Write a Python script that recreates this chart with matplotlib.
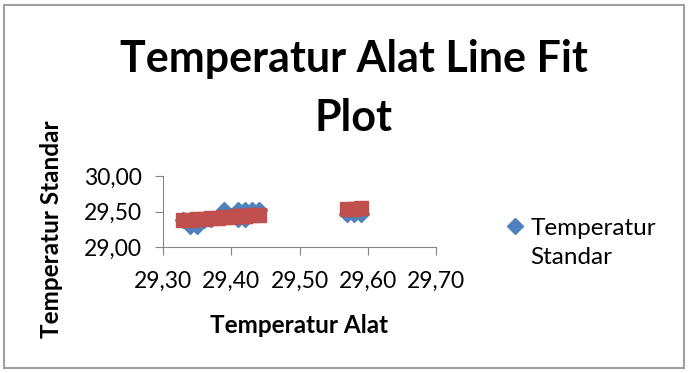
import matplotlib.pyplot as plt
from matplotlib.patches import Rectangle

# Data
temperatur_alat = [29.33, 29.34, 29.35, 29.36, 29.37, 29.38, 29.39, 29.40, 29.41,
                   29.41, 29.42, 29.42, 29.43, 29.44, 29.57, 29.58, 29.59]
temperatur_standar = [29.38, 29.30, 29.30, 29.38, 29.40, 29.42, 29.52, 29.44, 29.52,
                      29.40, 29.52, 29.40, 29.52, 29.52, 29.46, 29.46, 29.46]
predicted_standar = [29.380, 29.386, 29.393, 29.399, 29.406, 29.412, 29.418, 29.425, 29.431,
                     29.431, 29.438, 29.438, 29.444, 29.450, 29.534, 29.540, 29.546]
x_ticks = [29.30, 29.40, 29.50, 29.60, 29.70]
y_ticks = [29.00, 29.50, 30.00]

plt.rcParams['font.family'] = ['Lato', 'DejaVu Sans']

W, H = 689, 373
fig = plt.figure(figsize=(W / 100, H / 100), dpi=100)
ax = fig.add_axes([163 / W, 1 - 247 / H, 273 / W, 71 / H])

ax.plot(temperatur_alat, temperatur_standar, linestyle='none', marker='D',
        markersize=8, color='#4F81BD', label='Temperatur')
ax.plot(temperatur_alat, predicted_standar, linestyle='none', marker='s',
        markersize=10.5, color='#C0504D')

ax.set_xlim(29.30, 29.70)
ax.set_ylim(29.00, 30.00)
ax.set_xticks(x_ticks)
ax.set_yticks(y_ticks)
ax.set_xticklabels([f'{v:.2f}'.replace('.', ',') for v in x_ticks])
ax.set_yticklabels([f'{v:.2f}'.replace('.', ',') for v in y_ticks])

for side in ['top', 'right']:
    ax.spines[side].set_visible(False)
for side in ['left', 'bottom']:
    ax.spines[side].set_color('#868686')
ax.tick_params(direction='out', length=6, color='#868686', labelsize=16.5)
ax.tick_params(axis='y', pad=9)
ax.tick_params(axis='x', pad=11)

ax.set_xlabel('Temperatur Alat', fontsize=17.5, fontweight='bold', labelpad=16)
ax.set_ylabel('Temperatur Standar', fontsize=17.5, fontweight='bold', va='center')
# the y title sits lower than the axes centre in the original
ax.yaxis.set_label_coords((52 - 163) / 273, (247 - 229) / 71)

fig.text(354 / W, 1 - 72 / H, 'Temperatur Alat Line Fit', ha='center', va='baseline',
         fontsize=31, fontweight='bold')
fig.text(354 / W, 1 - 131 / H, 'Plot', ha='center', va='baseline',
         fontsize=31, fontweight='bold')

# legend: first line with marker, second line as plain text below it
ax.legend(loc='center left', bbox_to_anchor=(506 / W, 1 - 228 / H),
          bbox_transform=fig.transFigure, frameon=False, fontsize=17.5,
          handlelength=0.7, handletextpad=0.3, borderaxespad=0, borderpad=0)
fig.text(530 / W, 1 - 258 / H, 'Standar', ha='left', va='center', fontsize=17.5)

fig.patches.append(Rectangle((4 / W, 5 / H), 680 / W, 363 / H, transform=fig.transFigure,
                             fill=False, edgecolor='#A0A0A0', linewidth=1.5))

fig.savefig('out.png', dpi=100)
